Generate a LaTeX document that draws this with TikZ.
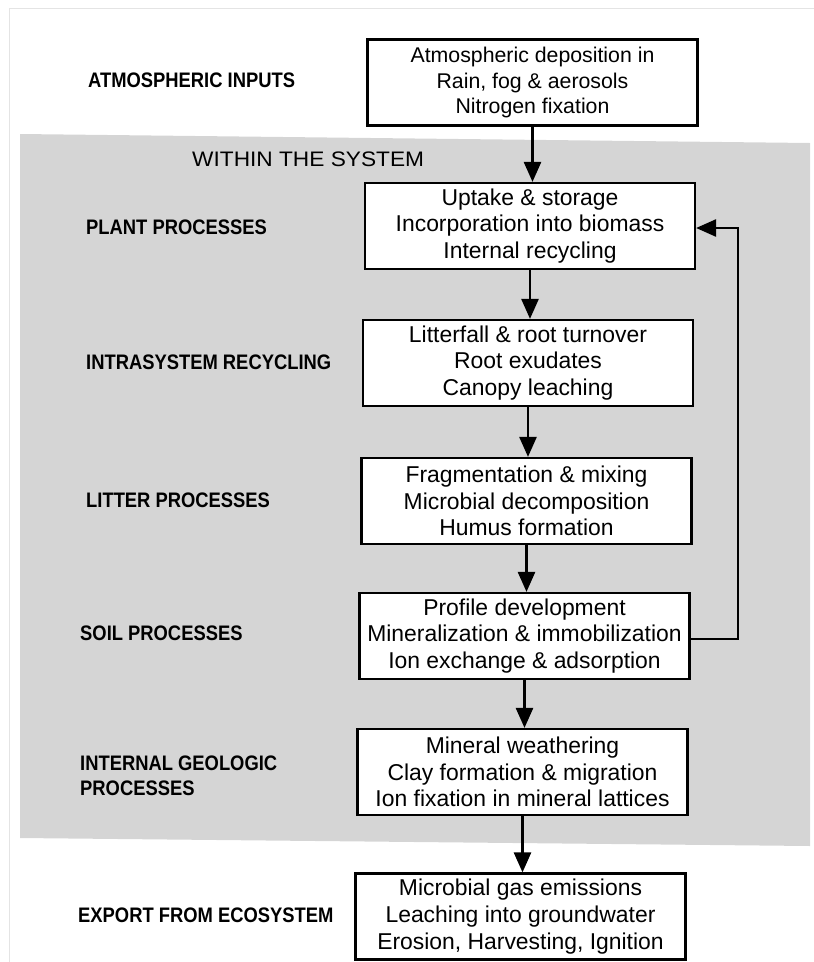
\documentclass[tikz,border=0pt]{standalone}
\usepackage{fontspec}
\setmainfont{Liberation Sans}
\newfontfamily\labfont[FakeStretch=0.875]{Liberation Sans}
\newfontfamily\wsfont[FakeStretch=1.08]{Liberation Sans}
\usetikzlibrary{arrows.meta}
\definecolor{regiongray}{RGB}{213,213,213}
\definecolor{frameline}{RGB}{228,228,228}
\tikzset{
  procbox/.style={draw=black, line width=2.2pt, fill=white, minimum width=330pt,
    minimum height=86pt, align=center, inner sep=0pt,
    font=\fontsize{22.9}{26.8}\selectfont},
  topbox/.style={procbox, font=\fontsize{21.3}{25.2}\selectfont},
  lab/.style={anchor=west, align=left, inner sep=0pt,
    font=\labfont\bfseries\fontsize{21}{25}\selectfont},
  flow/.style={line width=2.6pt, -{Triangle[length=20pt,width=17pt]}},
}
\begin{document}
\begin{tikzpicture}[x=1pt,y=-1pt]
\useasboundingbox (0,0) rectangle (814,962);
% page edge
\draw[frameline, line width=1pt] (9,962) -- (9,8) -- (814,8);
% shaded "within the system" region
\fill[regiongray] (20,134) -- (810,143) -- (810,846) -- (20,838) -- cycle;

% boxes
\node[topbox] (atm) at (532.5,82.5) {Atmospheric deposition in\\Rain, fog \& aerosols\\Nitrogen fixation};
\node[procbox] (plant) at (530,226) {Uptake \& storage\\Incorporation into biomass\\Internal recycling};
\node[procbox] (intra) at (528,363) {Litterfall \& root turnover\\Root exudates\\Canopy leaching};
\node[procbox] (litter) at (526.5,501) {Fragmentation \& mixing\\Microbial decomposition\\Humus formation};
\node[procbox] (soil) at (524.5,636) {Profile development\\Mineralization \& immobilization\\Ion exchange \& adsorption};
\node[procbox] (geo) at (522.5,772) {Mineral weathering\\Clay formation \& migration\\Ion fixation in mineral lattices};
\node[procbox] (exp) at (520.5,916.5) {Microbial gas emissions\\Leaching into groundwater\\Erosion, Harvesting, Ignition};

% labels
\node[lab] (latm) at (88,80) {ATMOSPHERIC INPUTS};
\node[anchor=west, inner sep=0pt, font=\wsfont\fontsize{21}{24}\selectfont] (lws) at (192,159) {WITHIN THE SYSTEM};
\node[lab] (lplant) at (86,227) {PLANT PROCESSES};
\node[lab] (lintra) at (86,362) {INTRASYSTEM RECYCLING};
\node[lab] (llitter) at (86,500) {LITTER PROCESSES};
\node[lab] (lsoil) at (80,633) {SOIL PROCESSES};
\node[lab] (lgeo) at (80,776) {INTERNAL GEOLOGIC\\PROCESSES};
\node[lab] (lexp) at (78,915) {EXPORT FROM ECOSYSTEM};

% flows
\draw[flow] (atm.south) -- (atm.south |- plant.north);
\draw[flow] (plant.south) -- (plant.south |- intra.north);
\draw[flow] (intra.south) -- (intra.south |- litter.north);
\draw[flow] (litter.south) -- (litter.south |- soil.north);
\draw[flow] (soil.south) -- (soil.south |- geo.north);
\draw[flow] (geo.south) -- (geo.south |- exp.north);
\coordinate (fbturn) at (738,639);
\draw[flow] ([yshift=-3pt]soil.east) -- (fbturn) |- ([yshift=-2pt]plant.east);
\end{tikzpicture}
\end{document}
